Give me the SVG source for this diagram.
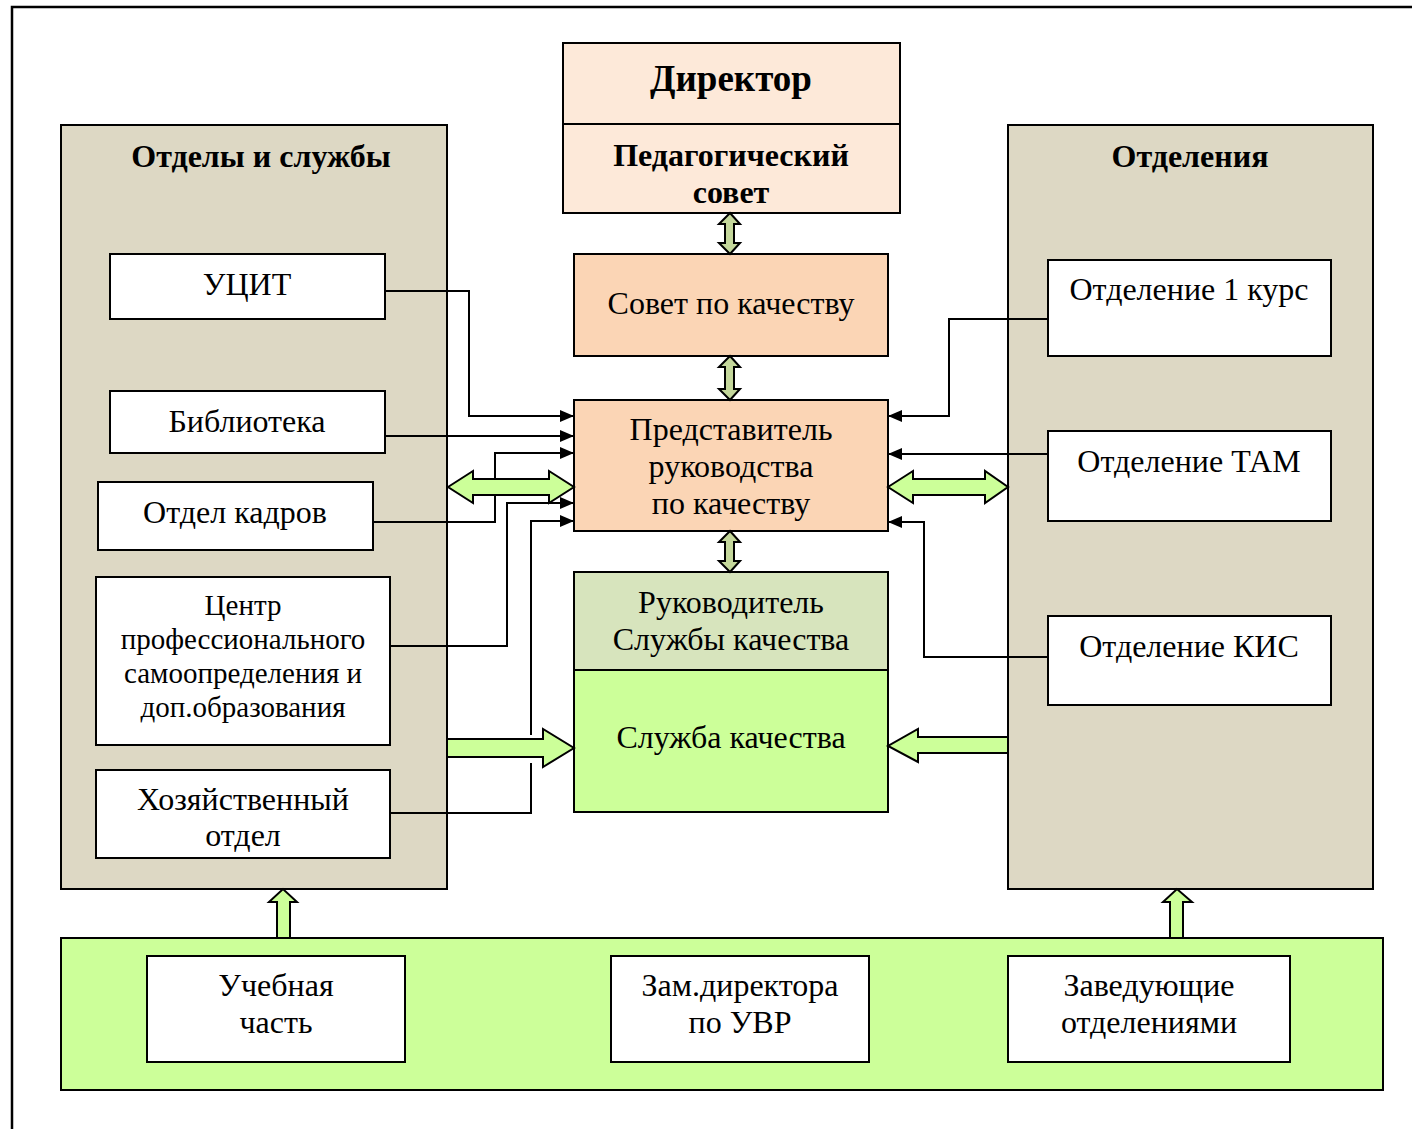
<svg xmlns="http://www.w3.org/2000/svg" width="1412" height="1129" viewBox="0 0 1412 1129">
<style>
text{font-family:"Liberation Serif","Times New Roman",serif;fill:#000;text-anchor:middle}
.t{font-size:32px}
.s{font-size:29px}
.b{font-size:32px;font-weight:bold}
.box{stroke:#000;stroke-width:2}
.ln{fill:none;stroke:#000;stroke-width:2}
.ga{fill:#CCFF99;stroke:#000;stroke-width:2;stroke-linejoin:miter}
.oa{fill:#C4D79B;stroke:#000;stroke-width:2}
</style>
<defs>
<marker id="ah" markerWidth="14" markerHeight="12" refX="14" refY="6" orient="auto" markerUnits="userSpaceOnUse">
<path d="M0,0 L14,6 L0,12 Z" fill="#000"/>
</marker>
</defs>
<rect width="1412" height="1129" fill="#fff"/>
<path d="M12,1129 V7 H1412" fill="none" stroke="#000" stroke-width="2.5"/>

<g id="panel-left"><rect class="box" x="61" y="125" width="386" height="764" fill="#DDD8C4"/><text class="b" x="261" y="167">Отделы и службы</text></g>
<g id="panel-right"><rect class="box" x="1008" y="125" width="365" height="764" fill="#DDD8C4"/><text class="b" x="1190" y="167">Отделения</text></g>
<g id="panel-bottom"><rect class="box" x="61" y="938" width="1322" height="152" fill="#CCFF99"/></g>

<g id="director"><rect class="box" x="563" y="43" width="337" height="81" fill="#FDE9D9"/><text x="731" y="91" style="font-size:37px;font-weight:bold">Директор</text></g>
<g id="ped-sovet"><rect class="box" x="563" y="124" width="337" height="89" fill="#FDE9D9"/><text class="b" x="731" y="166">Педагогический</text><text class="b" x="731" y="203">совет</text></g>
<g id="sovet-kach"><rect class="box" x="574" y="254" width="314" height="102" fill="#FBD5B5"/><text class="t" x="731" y="314">Совет по качеству</text></g>
<g id="predstavitel"><rect class="box" x="574" y="400" width="314" height="131" fill="#FBD5B5"/><text class="t" x="731" y="440">Представитель</text><text class="t" x="731" y="477">руководства</text><text class="t" x="731" y="514">по качеству</text></g>
<g id="rukovoditel"><rect class="box" x="574" y="572" width="314" height="98" fill="#D7E4BD"/><text class="t" x="731" y="613">Руководитель</text><text class="t" x="731" y="650">Службы качества</text></g>
<g id="sluzhba"><rect class="box" x="574" y="670" width="314" height="142" fill="#CCFF99"/><text class="t" x="731" y="748">Служба качества</text></g>

<g id="ucit"><rect class="box" x="110" y="254" width="275" height="65" fill="#fff"/><text class="t" x="247" y="295">УЦИТ</text></g>
<g id="biblioteka"><rect class="box" x="110" y="391" width="275" height="62" fill="#fff"/><text class="t" x="247" y="432">Библиотека</text></g>
<g id="kadry"><rect class="box" x="98" y="482" width="275" height="68" fill="#fff"/><text class="t" x="235" y="523">Отдел кадров</text></g>
<g id="centr"><rect class="box" x="96" y="577" width="294" height="168" fill="#fff"/><text class="s" x="243" y="615">Центр</text><text class="s" x="243" y="649">профессионального</text><text class="s" x="243" y="683">самоопределения и</text><text class="s" x="243" y="717">доп.образования</text></g>
<g id="hoz"><rect class="box" x="96" y="770" width="294" height="88" fill="#fff"/><text class="t" x="243" y="810">Хозяйственный</text><text class="t" x="243" y="846">отдел</text></g>

<g id="otd1"><rect class="box" x="1048" y="260" width="283" height="96" fill="#fff"/><text class="t" x="1189" y="300">Отделение 1 курс</text></g>
<g id="otdtam"><rect class="box" x="1048" y="431" width="283" height="90" fill="#fff"/><text class="t" x="1189" y="472">Отделение ТАМ</text></g>
<g id="otdkis"><rect class="box" x="1048" y="616" width="283" height="89" fill="#fff"/><text class="t" x="1189" y="657">Отделение КИС</text></g>

<g id="uchebnaya"><rect class="box" x="147" y="956" width="258" height="106" fill="#fff"/><text class="t" x="276" y="996">Учебная</text><text class="t" x="276" y="1033">часть</text></g>
<g id="zam"><rect class="box" x="611" y="956" width="258" height="106" fill="#fff"/><text class="t" x="740" y="996">Зам.директора</text><text class="t" x="740" y="1033">по УВР</text></g>
<g id="zaveduyushie"><rect class="box" x="1008" y="956" width="282" height="106" fill="#fff"/><text class="t" x="1149" y="996">Заведующие</text><text class="t" x="1149" y="1033">отделениями</text></g>

<g id="connectors">
<path class="ln" d="M385,291 H469 V416 H574" marker-end="url(#ah)"/>
<path class="ln" d="M385,436 H574" marker-end="url(#ah)"/>
<path class="ln" d="M373,522 H495 V453 H574" marker-end="url(#ah)"/>
<path class="ln" d="M390,646 H507 V503 H574" marker-end="url(#ah)"/>
<path class="ln" d="M390,813 H531 V521 H574" marker-end="url(#ah)"/>
<path class="ln" d="M1048,319 H949 V416 H888" marker-end="url(#ah)"/>
<path class="ln" d="M1048,454 H888" marker-end="url(#ah)"/>
<path class="ln" d="M1048,657 H924 V522 H888" marker-end="url(#ah)"/>

<path class="ga" d="M448,487 L473,471 V479 H549 V471 L574,487 L549,503 V495 H473 V503 Z"/>
<path class="ga" d="M888,487 L913,471 V479 H985 V471 L1008,487 L985,503 V495 H913 V503 Z"/>

<rect x="525" y="735" width="12" height="28" fill="#fff"/>
<path class="ga" d="M447,739 H543 V729 L574,748 L543,767 V757 H447 Z"/>
<path class="ga" d="M1008,737 H918 V729 L888,746 L918,762 V753 H1008 Z"/>

<path class="oa" d="M730,213 L740,224 H734 V243 H740 L730,254 L719,243 H725 V224 H719 Z"/>
<path class="oa" d="M730,356 L740,367 H734 V389 H740 L730,400 L719,389 H725 V367 H719 Z"/>
<path class="oa" d="M730,531 L740,542 H734 V561 H740 L730,572 L719,561 H725 V542 H719 Z"/>

<path class="ga" d="M277,938 V902 H269 L283,889 L297,902 H290 V938 Z"/>
<path class="ga" d="M1170,938 V902 H1163 L1177,889 L1192,902 H1183 V938 Z"/>
</g>
</svg>
